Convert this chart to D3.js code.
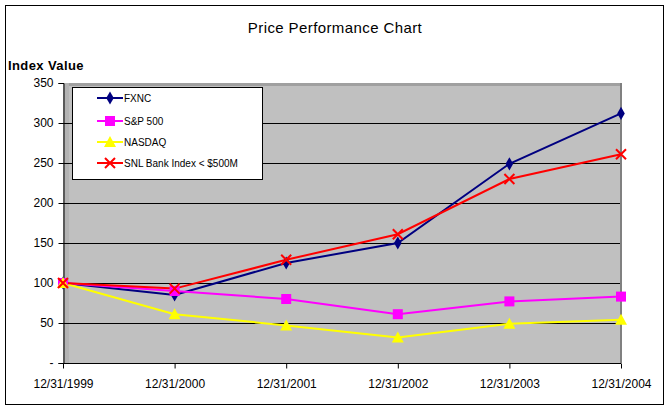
<!DOCTYPE html>
<html>
<head>
<meta charset="utf-8">
<script src="https://cdn.jsdelivr.net/npm/d3@7"></script>
<style>
  body { margin: 0; background: #fff; }
  text { font-family: Arial, "Liberation Sans", sans-serif; }
</style>
</head>
<body>
<script>
'use strict';

const width = 669;
const height = 409;

const dates = ["12/31/1999", "12/31/2000", "12/31/2001", "12/31/2002", "12/31/2003", "12/31/2004"];
const fxnc = [100, 85, 125, 150, 249, 312];
const sp500 = [100, 90, 80, 61, 77, 83];
const nasdaq = [100, 61, 47, 32, 49, 54];
const snl = [100, 93, 129, 161, 230, 261];
const yTicks = [0, 50, 100, 150, 200, 250, 300, 350];

const series = [
    {name: "FXNC", values: fxnc, color: "#000080", marker: "diamond"},
    {name: "S&P 500", values: sp500, color: "#ff00ff", marker: "square"},
    {name: "NASDAQ", values: nasdaq, color: "#ffff00", marker: "triangle"},
    {name: "SNL Bank Index < $500M", values: snl, color: "#ff0000", marker: "x"}
];

const svg = d3.select("body")
    .append("svg")
    .attr("width", width)
    .attr("height", height);

// outer frame
svg.append("rect")
    .attr("x", 5.5).attr("y", 5.5)
    .attr("width", 658).attr("height", 399)
    .attr("fill", "#fff")
    .attr("stroke", "#000")
    .attr("stroke-width", 1);

const pLeft = 63, pRight = 621, pTop = 83, pBottom = 363;

let x = d3.scalePoint()
    .domain(dates)
    .range([pLeft, pRight]);

let y = d3.scaleLinear()
    .domain([0, 350])
    .range([pBottom, pTop]);

// plot area
svg.append("rect")
    .attr("x", pLeft).attr("y", pTop)
    .attr("width", pRight - pLeft).attr("height", pBottom - pTop)
    .attr("fill", "#c0c0c0");

svg.append("rect")
    .attr("x", pLeft).attr("y", pTop)
    .attr("width", pRight - pLeft).attr("height", 3)
    .attr("fill", "#a0a0a0");
svg.append("rect")
    .attr("x", pLeft).attr("y", pTop)
    .attr("width", 6).attr("height", pBottom - pTop)
    .attr("fill", "#b4b4b4");
svg.append("rect")
    .attr("x", pRight - 1).attr("y", pTop)
    .attr("width", 2).attr("height", pBottom - pTop)
    .attr("fill", "#808080");

// gridlines
svg.append("g").selectAll("line")
    .data(yTicks.filter(d => d > 0 && d < 350))
    .enter()
    .append("line")
    .attr("x1", pLeft).attr("x2", pRight - 1)
    .attr("y1", d => Math.round(y(d)) + 0.5)
    .attr("y2", d => Math.round(y(d)) + 0.5)
    .attr("stroke", "#000")
    .attr("stroke-width", 1);

// y axis
let yAxis = d3.axisLeft(y)
    .tickValues(yTicks)
    .tickSize(5)
    .tickPadding(5)
    .tickFormat(d => d === 0 ? "-" : d);

let gy = svg.append("g")
    .attr("transform", "translate(" + (pLeft + 0.5) + ",0)")
    .call(yAxis);
gy.select(".domain").attr("stroke", "#000");
gy.selectAll("text").attr("font-size", 12).attr("fill", "#000")
    .attr("font-family", "Arial, 'Liberation Sans', sans-serif");

// x axis
let xAxis = d3.axisBottom(x)
    .tickSize(5)
    .tickPadding(11);

let gx = svg.append("g")
    .attr("transform", "translate(0," + (pBottom + 0.5) + ")")
    .call(xAxis);
gx.select(".domain").attr("d", "M" + pLeft + ",0H" + pRight);
gx.selectAll("text").attr("font-size", 12).attr("fill", "#000")
    .attr("font-family", "Arial, 'Liberation Sans', sans-serif");

// lines
let line = d3.line()
    .x((d, i) => x(dates[i]))
    .y(d => y(d));

function drawMarker(g, type, color, cx, cy) {
    if (type === "diamond") {
        g.append("path")
            .attr("d", d3.symbol(d3.symbolDiamond, 50)())
            .attr("transform", "translate(" + cx + "," + cy + ")")
            .attr("fill", color);
    } else if (type === "square") {
        g.append("rect")
            .attr("x", cx - 5).attr("y", cy - 5)
            .attr("width", 10).attr("height", 10)
            .attr("fill", color);
    } else if (type === "triangle") {
        g.append("path")
            .attr("d", "M" + cx + "," + (cy - 6) + "L" + (cx + 6) + "," + (cy + 5) + "L" + (cx - 6) + "," + (cy + 5) + "Z")
            .attr("fill", color);
    } else {
        g.append("path")
            .attr("d", "M" + (cx - 5) + "," + (cy - 5) + "L" + (cx + 5) + "," + (cy + 5) +
                "M" + (cx - 5) + "," + (cy + 5) + "L" + (cx + 5) + "," + (cy - 5))
            .attr("stroke", color)
            .attr("stroke-width", 2)
            .attr("fill", "none");
    }
}

let plots = svg.append("g");
series.forEach(s => {
    plots.append("path")
        .attr("d", line(s.values))
        .attr("stroke", s.color)
        .attr("stroke-width", 2)
        .attr("fill", "none");
});
series.forEach(s => {
    s.values.forEach((v, i) => drawMarker(plots, s.marker, s.color, x(dates[i]), y(v)));
});

// legend
let legend = svg.append("g");
legend.append("rect")
    .attr("x", 72.5).attr("y", 87.5)
    .attr("width", 190).attr("height", 92)
    .attr("fill", "#fff")
    .attr("stroke", "#000");

let legendY = [98, 121, 142, 163];
series.forEach((s, i) => {
    let ly = legendY[i];
    legend.append("line")
        .attr("x1", 97).attr("x2", 123)
        .attr("y1", ly).attr("y2", ly)
        .attr("stroke", s.color)
        .attr("stroke-width", 2);
    drawMarker(legend, s.marker, s.color, 110, ly);
    legend.append("text")
        .attr("x", 124).attr("y", ly + 4)
        .attr("font-size", 10)
        .text(s.name);
});

// titles
svg.append("text")
    .attr("x", 335).attr("y", 33)
    .attr("text-anchor", "middle")
    .attr("font-size", 15)
    .attr("letter-spacing", 0.4)
    .text("Price Performance Chart");

svg.append("text")
    .attr("x", 8).attr("y", 70)
    .attr("font-size", 13)
    .attr("font-weight", "bold")
    .attr("letter-spacing", 0.4)
    .text("Index Value");
</script>
</body>
</html>
